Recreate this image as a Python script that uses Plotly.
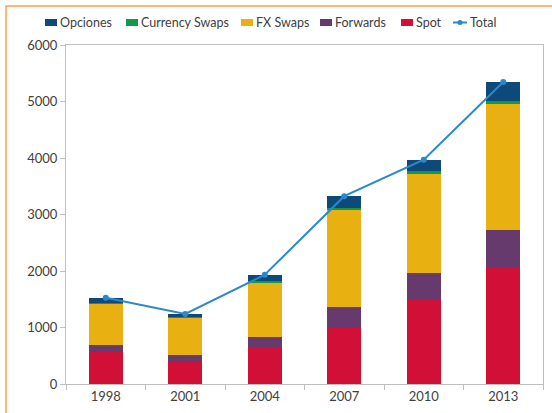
import plotly.graph_objects as go

# Volumen diario del mercado de divisas (miles de millones USD)
years = ['1998', '2001', '2004', '2007', '2010', '2013']
spot = [568, 386, 631, 1005, 1488, 2046]
forwards = [128, 130, 209, 362, 475, 680]
fx_swaps = [734, 656, 954, 1714, 1759, 2228]
currency_swaps = [10, 7, 21, 31, 43, 54]
opciones = [87, 60, 119, 212, 207, 337]
total = [1527, 1239, 1934, 3324, 3971, 5345]

series = [
    ('Spot', spot, '#D20F37'),
    ('Forwards', forwards, '#673A6E'),
    ('FX Swaps', fx_swaps, '#E9B012'),
    ('Currency Swaps', currency_swaps, '#0E9A48'),
    ('Opciones', opciones, '#0D4A7A'),
]
line_col = '#2A88CC'

fig = go.Figure()
for name, vals, color in series:
    fig.add_trace(go.Bar(x=years, y=vals, name=name, marker_color=color,
                         marker_line_width=0, showlegend=False))

fig.add_trace(go.Scatter(x=years, y=total, name='Total', mode='lines+markers',
                         line=dict(color=line_col, width=2),
                         marker=dict(size=6, color=line_col), showlegend=False))

# leyenda dibujada a mano (px de la figura -> coordenadas paper)
L, R, T, B = 66, 543, 45, 384
def px(x):
    return (x - L) / (R - L)
def py(y):
    return (B - y) / (B - T)

shapes = []
annotations = []
legend_items = [('Opciones', '#0D4A7A', 45), ('Currency Swaps', '#0E9A48', 126),
                ('FX Swaps', '#E9B012', 241), ('Forwards', '#673A6E', 320),
                ('Spot', '#D20F37', 401)]
for name, color, x0 in legend_items:
    shapes.append(dict(type='rect', xref='paper', yref='paper',
                       x0=px(x0), x1=px(x0 + 12), y0=py(26), y1=py(19),
                       fillcolor=color, line=dict(width=0)))
    annotations.append(dict(text=name, xref='paper', yref='paper', x=px(x0 + 13), y=py(22.5),
                            xanchor='left', yanchor='middle', showarrow=False,
                            font=dict(size=12.5)))
shapes.append(dict(type='line', xref='paper', yref='paper', x0=px(453), x1=px(467),
                   y0=py(22.5), y1=py(22.5), line=dict(color=line_col, width=2)))
shapes.append(dict(type='circle', xref='paper', yref='paper', x0=px(457.5), x1=px(462.5),
                   y0=py(25), y1=py(20), fillcolor=line_col, line=dict(width=0)))
annotations.append(dict(text='Total', xref='paper', yref='paper', x=px(468), y=py(22.5),
                        xanchor='left', yanchor='middle', showarrow=False,
                        font=dict(size=12.5)))

# marco naranja exterior
shapes.append(dict(type='rect', xref='paper', yref='paper',
                   x0=px(6), x1=px(620), y0=py(480), y1=py(6),
                   line=dict(color='#F7A24A', width=1.5), fillcolor='rgba(0,0,0,0)', layer='below'))

axis_col = '#BFBFBF'
fig.update_layout(
    barmode='stack',
    bargap=0.57,
    width=552, height=413,
    margin=dict(l=L, r=552 - R, t=T, b=413 - B),
    paper_bgcolor='white', plot_bgcolor='white',
    showlegend=False,
    font=dict(family='Lato, Open Sans, sans-serif', size=13, color='#404040'),
    xaxis=dict(showline=True, linecolor=axis_col, mirror=True, ticks='outside',
               tickson='boundaries', ticklen=5, tickcolor=axis_col, showgrid=False,
               automargin=False),
    yaxis=dict(range=[0, 6000], dtick=1000, showline=True, linecolor=axis_col, mirror=True,
               ticks='outside', ticklen=5, tickcolor=axis_col, showgrid=False, zeroline=False,
               automargin=False),
    shapes=shapes,
    annotations=annotations,
)

# sin el margen por defecto del <body>
fig.write_html('out.html', config={'displayModeBar': False},
               post_script="document.body.style.margin='0';")
